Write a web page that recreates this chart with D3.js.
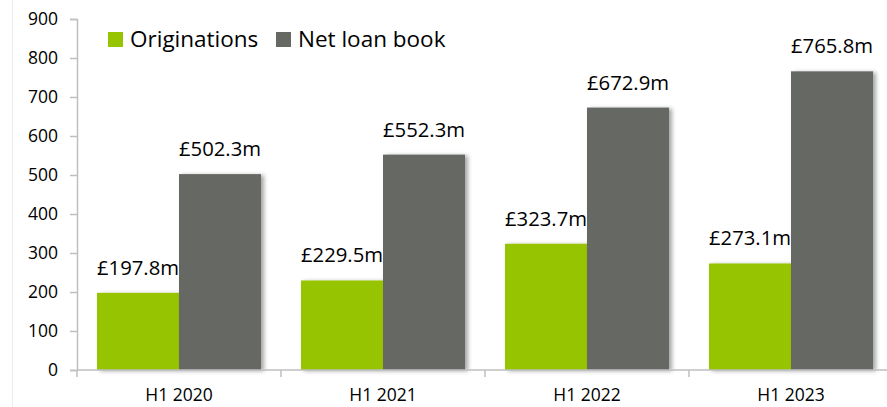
<!DOCTYPE html>
<html>
<head>
<meta charset="utf-8">
<script src="https://cdn.jsdelivr.net/npm/d3@7"></script>
<style>
  body { margin: 0; background: #fff; }
  svg text { font-family: "Open Sans", "Noto Sans", sans-serif; fill: #000; }
</style>
</head>
<body>
<svg id="chart" width="887" height="407"></svg>
<script>
var categories = ["H1 2020", "H1 2021", "H1 2022", "H1 2023"];
var seriesNames = ["Originations", "Net loan book"];
var originations = [197.8, 229.5, 323.7, 273.1];
var netLoanBook = [502.3, 552.3, 672.9, 765.8];
var yTicks = [0, 100, 200, 300, 400, 500, 600, 700, 800, 900];
var colors = ["#97c400", "#666864"];

var svg = d3.select("#chart");

// faint border on the left of the chart area
svg.append("line")
    .attr("x1", 12.5).attr("x2", 12.5)
    .attr("y1", 0).attr("y2", 407)
    .attr("stroke", "#ececec");

var defs = svg.append("defs");
var shadow = defs.append("filter")
    .attr("id", "shadow")
    .attr("x", "-10%").attr("y", "-10%")
    .attr("width", "130%").attr("height", "120%");
shadow.append("feDropShadow")
    .attr("dx", 3).attr("dy", 1)
    .attr("stdDeviation", 2)
    .attr("flood-color", "#000")
    .attr("flood-opacity", 0.35);

var y = d3.scaleLinear().domain([0, 900]).range([370, 19]);
var x = d3.scaleBand().domain(categories).range([77, 893]).padding(0);
var inner = d3.scaleBand().domain(seriesNames)
    .range([20, x.bandwidth() - 20]).padding(0);

// y axis
var yAxis = svg.append("g")
    .attr("transform", "translate(77,0)")
    .call(d3.axisLeft(y).tickValues(yTicks).tickSize(7).tickPadding(12));
yAxis.select(".domain").attr("stroke", "#bfbfbf").attr("stroke-width", 1.5);
yAxis.selectAll(".tick line").attr("stroke", "#bfbfbf").attr("stroke-width", 1.5);
yAxis.selectAll(".tick text").attr("font-size", 17.5).attr("fill", "#000");

// bars
var rows = categories.map(function(c, i) {
    return { cat: c, values: [originations[i], netLoanBook[i]] };
});

var groups = svg.selectAll(".cat")
    .data(rows)
    .enter().append("g")
    .attr("class", "cat")
    .attr("transform", function(d) { return "translate(" + x(d.cat) + ",0)"; });

groups.selectAll("rect")
    .data(function(d) { return d.values.map(function(v, j) { return { name: seriesNames[j], v: v, j: j }; }); })
    .enter().append("rect")
    .attr("x", function(d) { return inner(d.name); })
    .attr("y", function(d) { return y(d.v); })
    .attr("width", inner.bandwidth())
    .attr("height", function(d) { return y(0) - y(d.v); })
    .attr("fill", function(d) { return colors[d.j]; })
    .attr("filter", "url(#shadow)");

groups.selectAll(".lbl")
    .data(function(d) { return d.values.map(function(v, j) { return { name: seriesNames[j], v: v }; }); })
    .enter().append("text")
    .attr("class", "lbl")
    .attr("x", function(d) { return inner(d.name) + inner.bandwidth() / 2; })
    .attr("y", function(d) { return y(d.v) - 18; })
    .attr("text-anchor", "middle")
    .attr("font-size", 20.3)
    .text(function(d) { return "£" + d.v.toFixed(1) + "m"; });

// x axis
var xAxisG = svg.append("g").attr("transform", "translate(0,370)");
xAxisG.append("line")
    .attr("x1", 77).attr("x2", 893)
    .attr("stroke", "#bfbfbf").attr("stroke-width", 1.5);
xAxisG.selectAll(".xt")
    .data(categories.concat(["end"]))
    .enter().append("line")
    .attr("class", "xt")
    .attr("x1", function(d, i) { return 77 + i * x.bandwidth(); })
    .attr("x2", function(d, i) { return 77 + i * x.bandwidth(); })
    .attr("y1", 0).attr("y2", 7)
    .attr("stroke", "#bfbfbf").attr("stroke-width", 1.5);
xAxisG.selectAll(".xl")
    .data(categories)
    .enter().append("text")
    .attr("class", "xl")
    .attr("x", function(d) { return x(d) + x.bandwidth() / 2; })
    .attr("y", 31)
    .attr("text-anchor", "middle")
    .attr("font-size", 17.5)
    .text(function(d) { return d; });

// legend
var legendX = [108, 276];
var legend = svg.selectAll(".leg")
    .data(seriesNames)
    .enter().append("g")
    .attr("class", "leg")
    .attr("transform", function(d, i) { return "translate(" + legendX[i] + ",32)"; });
legend.append("rect")
    .attr("width", 15).attr("height", 15)
    .attr("fill", function(d, i) { return colors[i]; });
legend.append("text")
    .attr("x", 22).attr("y", 15)
    .attr("font-size", 22.5)
    .text(function(d) { return d; });
</script>
</body>
</html>
